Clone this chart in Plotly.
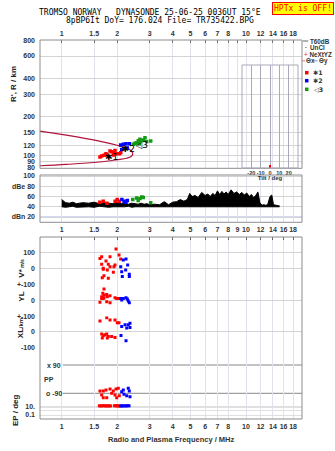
import math
import plotly.graph_objects as go

# ---------------- data ----------------
freq_ticks_top = [1, 1.5, 2, 3, 4, 5, 6, 7, 8, 9, 10, 12, 14, 16, 18]
freq_text_top = ["1", "1.5", "2", "3", "4", "5", "6", "7", "8", "", "10", "12", "14", "16", "18"]
freq_ticks_mid = [1, 1.5, 2, 3, 4, 5, 6, 7, 8, 9, 10, 12, 14, 16, 18]
freq_ticks_low = [1, 1.5, 2, 3, 4, 5, 6, 7, 8, 10, 12, 14, 16, 18]
range_ticks = [80, 90, 100, 120, 150, 200, 300, 400, 600, 800]

# model profile curve (frequency MHz, range km)
curve_f = [0.76, 1.06, 1.6, 2.0, 2.25, 2.38, 2.43, 2.38, 2.25, 2.0, 1.6, 1.06, 0.76]
curve_r = [155, 144, 129.5, 120, 114, 109, 103, 98, 95, 92.5, 88.7, 85, 82.9]

# echoes: range
e1_f = [1.613, 1.648, 1.696, 1.755, 1.739, 1.829, 1.867, 1.946, 1.921, 1.988, 2.054, 2.090, 1.906]
e1_r = [97, 98.8, 100, 100.6, 103, 108, 106.8, 109.3, 105, 103, 103, 105, 100.6]
e2_f = [2.090, 2.159, 2.233, 2.327, 2.116, 2.177, 2.270]
e2_r = [120.5, 122, 123.5, 123.5, 111.3, 113.3, 114.3]
e3_f = [2.447, 2.498, 2.553, 2.604, 2.658, 2.716, 2.770, 2.830, 2.890, 2.636, 3.040]
e3_r = [122, 124.3, 125.7, 130, 134, 130, 131.8, 137.5, 128.6, 123.5, 129.3]

# noise / amplitude panel (dB)
noise_f = [1.0, 1.05, 1.1, 1.15, 1.2, 1.3, 1.4, 1.5, 1.6, 1.7,
           1.8, 1.9, 2.0, 2.1, 2.2, 2.3, 2.4, 2.5, 2.6, 2.7,
           2.8, 2.9, 3.0, 3.2, 3.4, 3.6, 3.8, 4.0, 4.2, 4.4,
           4.6, 4.8, 4.95, 5.1, 5.3, 5.5, 5.75, 6.0, 6.2, 6.4,
           6.6, 6.8, 7.0, 7.2, 7.4, 7.6, 7.8, 8.0, 8.3, 8.6,
           8.9, 9.2, 9.5, 9.8, 10.1, 10.4, 10.7, 11.0, 11.3, 11.6,
           11.9, 12.2, 12.5, 12.8, 13.1, 13.5, 13.8, 14.1, 14.4, 14.7,
           15.0, 15.2]
noise_hi = [54, 48, 47, 49, 46, 48, 47, 49, 46, 48,
            47, 46, 48, 46, 47, 45, 47, 46, 45, 47,
            45, 46, 44, 45, 44, 50, 44, 49, 50, 54,
            51, 54, 66, 60, 62, 58, 68, 62, 65, 60,
            66, 62, 71, 64, 70, 65, 69, 64, 73, 66,
            69, 64, 68, 63, 67, 60, 64, 58, 62, 69,
            48, 43, 44, 43, 44, 60, 63, 44, 43, 43,
            42, 42]
noise_lo = [40, 39, 40, 41, 39, 40, 40, 39, 41, 40,
            39, 40, 40, 39, 40, 41, 39, 40, 40, 39,
            40, 40, 39, 40, 40, 39, 40, 40, 39, 40,
            40, 39, 40, 40, 39, 40, 40, 39, 40, 40,
            39, 40, 40, 39, 40, 40, 39, 40, 40, 39,
            40, 40, 39, 40, 40, 39, 40, 40, 39, 40,
            40, 39, 40, 40, 39, 40, 40, 39, 40, 40,
            39, 40]
db1_f = [1.61, 1.68, 1.76, 1.95, 2.0, 2.05]
db1_v = [49, 51, 47, 51, 54, 51]
db2_f = [2.12, 2.18, 2.27, 2.23]
db2_v = [54, 51, 52, 49]
db3_f = [2.43, 2.55, 2.66, 2.72, 2.77, 2.60, 3.04]
db3_v = [54, 57, 56, 59, 58, 52, 48]

# V* (m/s)
v1_f = [1.971, 1.613, 1.648, 1.829, 1.739, 2.046, 2.090, 1.648, 1.790, 1.681,
        1.681, 1.829, 1.921, 1.768, 1.906, 1.696, 1.660, 1.790, 1.946]
v1_v = [121, 62, 72, 72, 46, 83, 58, 25, 25, 0, -6, 10, 10, -11, -25, -46, -59, -62, 20]
v2_f = [2.159, 2.233, 2.280, 2.090, 2.116, 2.327, 2.327, 2.132, 2.224]
v2_v = [52, 58, 21, 10, -21, -37, -52, -52, -11]

# YL (km)
yl1_f = [1.696, 1.671, 1.696, 1.755, 1.829, 1.648, 1.648, 1.696, 1.768, 1.946,
         1.988, 2.028, 1.613, 1.755, 1.829, 1.681]
yl1_v = [71, 44, 33, 37, 29, 22, 12, 16, 22, 16, 12, 12, -12, -9, -15, 12]
yl2_f = [2.090, 2.159, 2.233, 2.270, 2.297, 2.327, 2.116]
yl2_v = [12, 12, 16, 8, -4, -15, 2]

# XL (km)
xl1_f = [1.613, 1.755, 1.829, 1.946, 2.003, 2.046, 1.648, 1.681, 1.717, 1.755,
         1.790, 1.867, 1.946, 1.660, 1.768]
xl1_v = [70, 91, 76, 76, 59, 59, -15, -25, -19, -15, -30, -30, -36, -40, -40]
xl2_f = [2.116, 2.206, 2.297, 2.347, 2.253, 2.347, 2.098, 2.233]
xl2_v = [34, 45, 45, 55, 24, 27, -24, -57]

# PP (deg)
pp1_f = [1.613, 1.681, 1.739, 1.829, 1.906, 1.971, 2.028, 1.648, 1.681, 1.755,
         1.946, 1.988, 2.054, 1.867]
pp1_v = [-75, -75, -69, -63, -75, -63, -58, -101, -118, -118, -101, -118, -105, -90]
pp2_f = [2.116, 2.177, 2.253, 2.327, 2.347, 2.297, 2.159]
pp2_v = [-80, -96, -105, -75, -112, -58, -69]

# EP (deg)
ep1_f = [1.60, 1.63, 1.66, 1.69, 1.72, 1.75, 1.78, 1.81, 1.84, 1.93, 1.96, 1.99, 2.02, 2.05]
ep1_v = [13, 12, 13, 14, 12, 13, 12, 13, 12, 13, 14, 12, 13, 12]
ep2_f = [2.09, 2.12, 2.15, 2.20, 2.24, 2.28, 2.32]
ep2_v = [12, 13, 12, 13, 12, 14, 13]

# tilt histogram inset
tilt_deg = [0]
tilt_cnt = [3]
tilt_ticks = [-30, -20, -10, 0, 10, 20, 30]
tilt_text = ["", "-20", "-10", "0", "10", "20", ""]

# ---------------- layout helpers ----------------
W, H = 335, 451
ML, MR, MT, MB = 40, 33, 40, 32
PW = W - ML - MR
PH = H - MT - MB


def px(x):
    return (x - ML) / PW


def py(y):
    return (H - MB - y) / PH


RED, BLUE, GREEN = "#ff0000", "#0000ff", "#139a13"
SANS = "Liberation Sans, Arial, sans-serif"
TF = dict(family=SANS, size=7, color="#333", weight="bold")
GRIDV = "#e2e2ee"
GRIDH = "#d4d4d4"
XR = [math.log10(0.7625), math.log10(20.13)]

fig = go.Figure()


def sc(x, y, color, xa, ya, size=3.5):
    fig.add_trace(go.Scatter(x=x, y=y, mode="markers", xaxis=xa, yaxis=ya,
                             marker=dict(symbol="square", size=size, color=color, line=dict(width=0)),
                             showlegend=False, hoverinfo="skip"))


# top panel
fig.add_trace(go.Scatter(x=curve_f, y=curve_r, mode="lines", xaxis="x", yaxis="y",
                         line=dict(color="#b0143c", width=1.2, shape="spline"),
                         showlegend=False, hoverinfo="skip"))
sc(e1_f, e1_r, RED, "x", "y")
sc(e2_f, e2_r, BLUE, "x", "y")
sc(e3_f, e3_r, GREEN, "x", "y")
fig.add_trace(go.Scatter(x=[1.867, 2.297, 2.716], y=[95.8, 111.5, 118], mode="text",
                         text=["✱1", "✱2", "◁3"], xaxis="x", yaxis="y",
                         textfont=dict(family="DejaVu Sans", size=9, color="black"),
                         showlegend=False, hoverinfo="skip"))

# dB panel
fig.add_trace(go.Scatter(x=noise_f, y=noise_lo, mode="lines", xaxis="x2", yaxis="y2",
                         line=dict(color="black", width=1), showlegend=False, hoverinfo="skip"))
fig.add_trace(go.Scatter(x=noise_f, y=noise_hi, mode="lines", xaxis="x2", yaxis="y2",
                         fill="tonexty", fillcolor="black",
                         line=dict(color="black", width=1), showlegend=False, hoverinfo="skip"))
sc(db1_f, db1_v, RED, "x2", "y2")
sc(db2_f, db2_v, BLUE, "x2", "y2")
sc(db3_f, db3_v, GREEN, "x2", "y2")

# lower panels
sc(v1_f, v1_v, RED, "x4", "y3", 3)
sc(v2_f, v2_v, BLUE, "x4", "y3", 3)
sc(yl1_f, yl1_v, RED, "x3", "y4", 3)
sc(yl2_f, yl2_v, BLUE, "x3", "y4", 3)
sc(xl1_f, xl1_v, RED, "x3", "y5", 3)
sc(xl2_f, xl2_v, BLUE, "x3", "y5", 3)
sc(pp1_f, pp1_v, RED, "x3", "y6", 3)
sc(pp2_f, pp2_v, BLUE, "x3", "y6", 3)
sc(ep1_f, ep1_v, RED, "x3", "y7", 3)
sc(ep2_f, ep2_v, BLUE, "x3", "y7", 3)

# tilt inset
fig.add_trace(go.Bar(x=tilt_deg, y=tilt_cnt, width=1.1, marker=dict(color=RED, line=dict(width=0)),
                     xaxis="x5", yaxis="y8", showlegend=False, hoverinfo="skip"))

xcommon = dict(type="log", range=XR, showgrid=True, gridcolor=GRIDV, gridwidth=1,
               zeroline=False, showline=False, tickfont=TF, fixedrange=True, tickangle=0)
ycommon = dict(showgrid=True, gridcolor=GRIDH, gridwidth=1, zeroline=False, showline=False,
               tickfont=TF, fixedrange=True, ticks="", ticklabelstandoff=4)

fig.update_layout(
    width=W, height=H, margin=dict(l=ML, r=MR, t=MT, b=MB, pad=0),
    paper_bgcolor="white", plot_bgcolor="rgba(0,0,0,0)", showlegend=False,
    bargap=0,
    xaxis=dict(xcommon, anchor="y", side="top", tickvals=freq_ticks_top, ticktext=freq_text_top,
               ticks="inside", ticklen=3, tickcolor="#777", ticklabelstandoff=2),
    xaxis2=dict(xcommon, anchor="y2", side="bottom", tickvals=freq_ticks_mid,
                ticktext=[str(v) for v in freq_ticks_mid], ticks="", ticklabelstandoff=2),
    xaxis3=dict(xcommon, anchor="y7", side="bottom", tickvals=freq_ticks_low,
                ticktext=[str(v) for v in freq_ticks_low], ticks="", ticklabelstandoff=2),
    xaxis4=dict(xcommon, anchor="y3", side="top", tickvals=freq_ticks_low, showticklabels=False,
                ticks="inside", ticklen=3, tickcolor="#666"),
    xaxis5=dict(domain=[px(242), px(298)], anchor="y8", range=[-30, 30], tickvals=tilt_ticks,
                ticktext=tilt_text, showgrid=True, gridcolor="#a9a9bb", zeroline=False,
                tickfont=dict(family=SANS, size=5.5, color="#333", weight="bold"), ticks="",
                tickangle=0, fixedrange=True, ticklabelstandoff=0,
                title=dict(text="Tilt / deg", font=dict(family=SANS, size=6, color="#333", weight="bold"),
                           standoff=0)),
    yaxis=dict(ycommon, anchor="x", domain=[py(168.3), 1], type="log",
               range=[math.log10(79.2), math.log10(801)], tickvals=range_ticks,
               ticktext=[str(v) for v in range_ticks]),
    yaxis2=dict(ycommon, anchor="x2", domain=[py(222.3), py(175)], range=[9.7, 102],
                tickvals=[20, 40, 60, 80, 100], ticktext=["dBn 20", "40", "60", "dBe 80", "100"]),
    yaxis3=dict(ycommon, anchor="x4", domain=[py(284.3), py(237)], range=[-100, 195.6],
                tickvals=[0, 100], ticktext=["0", "100"]),
    yaxis4=dict(ycommon, anchor="x3", domain=[py(316.3), py(284.3)], range=[-100, 100],
                tickvals=[0, 100], ticktext=["0", "+-100"]),
    yaxis5=dict(ycommon, anchor="x3", domain=[py(347.3), py(316.3)], range=[-100, 100],
                tickvals=[0, 100], ticktext=["0", "+-100"]),
    yaxis6=dict(ycommon, anchor="x3", domain=[py(403), py(347.3)], range=[-151.7, 202.6],
                showticklabels=False, showgrid=False),
    yaxis7=dict(ycommon, anchor="x3", domain=[0, py(403)], type="log", range=[-1.92, 1.76],
                tickvals=[0.1, 1, 5, 10], ticktext=["0.1", "", "", "10."], gridcolor="#e0e0e0"),
    yaxis8=dict(anchor="x5", domain=[py(168), py(65)], range=[0, 100], showgrid=False,
                showticklabels=False, zeroline=False, fixedrange=True),
)

# legend row positions (pixels from top)
ROW_T60, ROW_UNCL, ROW_NEXT, ROW_THETA = 41.0, 47.6, 54.2, 60.8

shapes = []
FRAME = "#8c8c8c"
for (y0, y1) in [(168.3, 40), (222.3, 175), (419, 237)]:
    shapes.append(dict(type="rect", xref="paper", yref="paper", x0=0, x1=1, y0=py(y0), y1=py(y1),
                       line=dict(color=FRAME, width=1), layer="above"))
# tilt inset frame
shapes.append(dict(type="rect", xref="paper", yref="paper", x0=px(242), x1=px(298), y0=py(168), y1=py(65),
                   line=dict(color="#a9a9bb", width=1), layer="above"))
# dBn reference line
shapes.append(dict(type="line", xref="paper", yref="y2", x0=0, x1=1, y0=20, y1=20,
                   line=dict(color="#aab0e6", width=1), layer="below"))
# PP lines
for v in [90, -90]:
    shapes.append(dict(type="line", xref="paper", yref="y6", x0=px(63), x1=1, y0=v, y1=v,
                       line=dict(color="#888888", width=1), layer="below"))
# legend marks
shapes.append(dict(type="line", xref="paper", yref="paper", x0=px(302.7), x1=px(308.3),
                   y0=py(ROW_T60), y1=py(ROW_T60), line=dict(color="#999999", width=1.5)))
shapes.append(dict(type="line", xref="paper", yref="paper", x0=px(301.7), x1=px(305.2),
                   y0=py(ROW_THETA), y1=py(ROW_THETA), line=dict(color="#f08898", width=1.2)))
shapes.append(dict(type="line", xref="paper", yref="paper", x0=px(313.5), x1=px(317.5),
                   y0=py(ROW_THETA), y1=py(ROW_THETA), line=dict(color="#9a9ae6", width=1.2)))
shapes.append(dict(type="rect", xref="paper", yref="paper", x0=px(305.5), x1=px(306.5),
                   y0=py(ROW_UNCL + 0.5), y1=py(ROW_UNCL - 0.5), fillcolor="#444", line=dict(width=0)))
for yy, col in [(72.7, RED), (80.7, BLUE), (89.3, GREEN)]:
    shapes.append(dict(type="rect", xref="paper", yref="paper", x0=px(305), x1=px(308.5),
                       y0=py(yy + 1.75), y1=py(yy - 1.75), fillcolor=col, line=dict(width=0)))
fig.update_layout(shapes=shapes)

ann = []
LF = dict(family=SANS, size=6.3, color="#333", weight="bold")


def A(text, x, y, font, xanchor="left", **kw):
    d = dict(text=text, x=px(x), y=py(y), xref="paper", yref="paper", showarrow=False,
             xanchor=xanchor, yanchor="middle", font=font, borderpad=0)
    d.update(kw)
    ann.append(d)


MONO = dict(family="DejaVu Sans Mono", size=8, color="black")
A("TROMSO\u00a0NORWAY\u00a0\u00a0\u00a0DYNASONDE\u00a025-06-25\u00a00036UT\u00a015°E", 150, 12, MONO, "center")
A("8pBP6It\u00a0DoY=\u00a0176.024\u00a0File=\u00a0TR735422.BPG", 159.5, 20.5, MONO, "center")
A("HPTx\u00a0is\u00a0OFF!", 302.5, 8.5, dict(family="DejaVu Sans Mono", size=8, color="#ff0000"), "center",
  bgcolor="#ffff00", bordercolor="#ff0000", borderwidth=1, borderpad=1)

A("T60dB", 309, ROW_T60, LF)
A("UnCl", 309, ROW_UNCL, LF)
A("<span style='color:#f07888'>+</span>\u00a0NeXtYZ", 303, ROW_NEXT, LF)
A("Θx", 305.3, ROW_THETA, LF)
A("Θy", 318, ROW_THETA, LF)
A("✱1", 312, 72.7, dict(LF, family="DejaVu Sans"))
A("✱2", 312, 80.7, dict(LF, family="DejaVu Sans"))
A("◁3", 313, 89.3, dict(LF, family="DejaVu Sans"))

TT = dict(family=SANS, size=8, color="#222", weight="bold")
A("R', R / km", 14, 84, TT, "center", textangle=-90)
A("V*<span style='font-size:5px'> m/s</span>", 20.7, 268, TT, "center", textangle=-90)
A("YL", 20.7, 297, TT, "center", textangle=-90)
A("<span style='font-size:6px'>/km</span>", 20.7, 323.5, TT, "center", textangle=-90)
A("XL", 20.7, 333.5, TT, "center", textangle=-90)
A("EP / deg", 15, 410, TT, "center", textangle=-90)
A("PP", 43, 379.5, TF)
A("x 90", 46, 365, TF)
A("o -90", 45, 393.3, TF)
A("-100", 35.5, 347.3, TF, "right")
A("Radio and Plasma Frequency / MHz", 171, 439, dict(family=SANS, size=7.5, color="#333", weight="bold"),
  "center")
fig.update_layout(annotations=ann)

fig.write_html("out.html")
